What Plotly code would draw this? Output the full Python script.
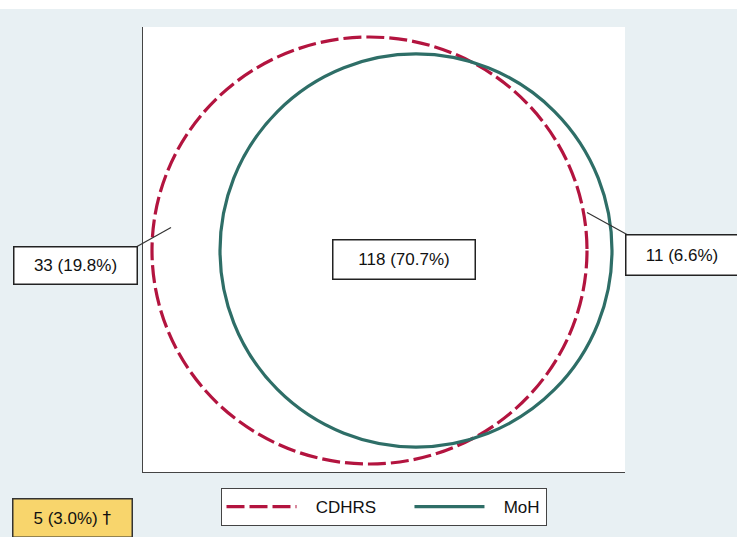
import plotly.graph_objects as go

# ---- data ----
series_names = ["CDHRS", "MoH"]
series_colors = ["#b3143f", "#2e6e67"]
region_labels = ["33 (19.8%)", "118 (70.7%)", "11 (6.6%)"]
neither_label = "5 (3.0%) <span style='font-family:DejaVu Sans;color:#111111'>\u2020</span>"

# ---- geometry (pixel layout of the figure) ----
W, H = 737, 537
PL, PR, PT, PB = 143, 625, 27, 473  # plot area in pixels


def px(x):
    return (x - PL) / (PR - PL)


def py(y):
    return (PB - y) / (PB - PT)


circles = [
    dict(x0=152, x1=587, y0=37, y1=465),   # CDHRS
    dict(x0=220, x1=612, y0=54, y1=448),   # MoH
]
dashes = ["18px,5px", "solid"]
NB = "\u00a0"
lead = 3
trail = [6, 0]

fig = go.Figure()

for name, col, c, d, t in zip(series_names, series_colors, circles, dashes, trail):
    fig.add_shape(type="circle", xref="x", yref="y",
                  x0=c["x0"], x1=c["x1"], y0=c["y0"], y1=c["y1"],
                  line=dict(color=col, width=3.2, dash=d), layer="above")
    fig.add_trace(go.Scatter(x=[None], y=[None], mode="lines",
                             name=NB * lead + name + NB * t,
                             line=dict(color=col, width=3.2, dash=d)))

# top white strip
fig.add_shape(type="rect", xref="paper", yref="paper",
              x0=px(0), x1=px(W), y0=py(0), y1=py(9),
              fillcolor="white", line=dict(width=0), layer="below")

# leader lines
fig.add_shape(type="line", xref="paper", yref="paper",
              x0=px(137), y0=py(247), x1=px(171), y1=py(228),
              line=dict(color="#333333", width=1.2))
fig.add_shape(type="line", xref="paper", yref="paper",
              x0=px(587), y0=py(213), x1=px(627), y1=py(235),
              line=dict(color="#333333", width=1.2))

font = dict(family="Liberation Sans, Arial, sans-serif", size=17, color="#111111")

boxes = [
    (region_labels[0], 75, 266, 122, 36),
    (region_labels[1], 403.5, 260, 141, 38),
    (region_labels[2], 682, 255.5, 111, 39),
]
for text, cx, cy, w, h in boxes:
    fig.add_annotation(text=text, xref="paper", yref="paper",
                       x=px(cx), y=py(cy), xanchor="center", yanchor="middle",
                       showarrow=False, width=w, height=h, borderpad=0,
                       bgcolor="white", bordercolor="#222222", borderwidth=1.5,
                       font=font)

fig.add_annotation(text=neither_label, xref="paper", yref="paper",
                   x=px(72), y=py(519), xanchor="center", yanchor="middle",
                   showarrow=False, width=118, height=37, borderpad=0,
                   bgcolor="#f8d56c", bordercolor="#333333", borderwidth=1.5,
                   font=font)

fig.update_layout(
    width=W, height=H,
    margin=dict(l=PL, r=W - PR, t=PT, b=H - PB, pad=0),
    paper_bgcolor="#e8f0f3",
    plot_bgcolor="white",
    showlegend=True,
    legend=dict(orientation="h", x=px(383.5), xanchor="center",
                y=py(488), yanchor="top",
                bgcolor="white", bordercolor="#444444", borderwidth=1,
                font=font, itemwidth=70, tracegroupgap=0),
    xaxis=dict(range=[PL, PR], showgrid=False, zeroline=False,
               showticklabels=False, ticks="", showline=True,
               linecolor="#444444", linewidth=1, fixedrange=True),
    yaxis=dict(range=[PB, PT], showgrid=False, zeroline=False,
               showticklabels=False, ticks="", showline=True,
               linecolor="#444444", linewidth=1, fixedrange=True),
)

fig.write_html("out.html", config={"displayModeBar": False},
               post_script="document.body.style.margin='0';document.body.style.padding='0';")
